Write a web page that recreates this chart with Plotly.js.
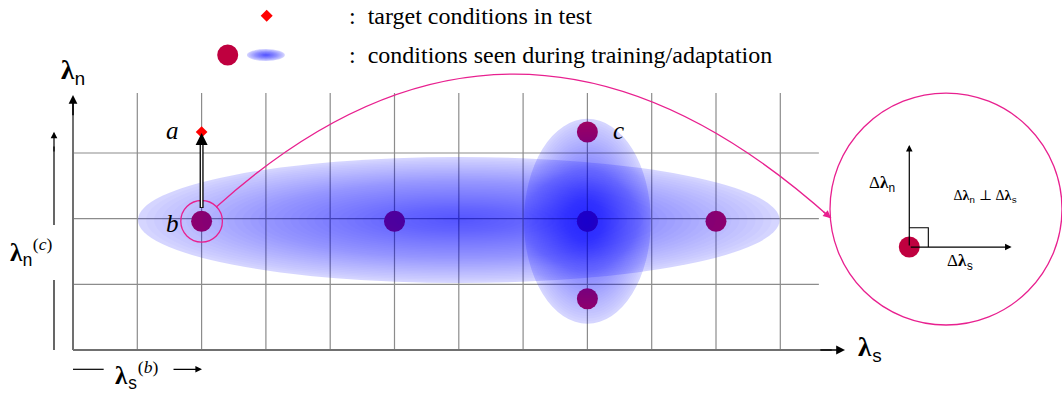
<!DOCTYPE html>
<html><head><meta charset="utf-8">
<script src="https://cdn.plot.ly/plotly-3.0.1.min.js"></script>
<style>
html,body{margin:0;padding:0;background:#fff}
#chart svg text{font-family:"Liberation Serif","DejaVu Serif",serif !important;}
</style>
</head><body>
<div id="chart" style="width:1062px;height:396px"></div>
<script>
// ---------------- data (grid units: λs horizontal, λn vertical) ----------------
const gridS = [1, 2, 3, 4, 5, 6, 7, 8, 9, 10, 11];
const gridN = [1, 2, 3];
const trainS = [2, 5, 8, 10, 8, 8];
const trainN = [1.96, 1.96, 1.96, 1.96, 3.32, 0.78];
const targetS = [2];
const targetN = [3.32];
const regionS = [6.0, 8.0];          // centres of the training/adaptation regions
const regionN = [1.98, 1.96];
const regionSpreadS = [4.99, 0.985];
const regionSpreadN = [0.96, 1.56];
const pointLabels = ['a', 'b', 'c'];

// ---------------- style ----------------
const SERIF = 'Liberation Serif';
const CRIMSON = '#bf003f';
const MAGENTA = '#e8208f';
const GRID = '#8c8c8c';
const AXIS = '#707070';
const TT = s => '<span style="font-family:Liberation Mono">' + s + '</span>';
const LAM = s => '<b>λ</b><sub>' + TT(s) + '</sub>';

const shapesBelow = [];
const shapesAbove = [];
const annotations = [];

// grid
const gridTop = 3.914, gridRight = 11.6;
gridS.forEach(s => shapesBelow.push({type:'line', layer:'below', xref:'x', yref:'y',
  x0:s, x1:s, y0:0, y1:gridTop, line:{color:GRID, width:1.2}}));
gridN.forEach(n => shapesBelow.push({type:'line', layer:'below', xref:'x', yref:'y',
  x0:0, x1:gridRight, y0:n, y1:n, line:{color:GRID, width:1.2}}));
// main axes
shapesBelow.push({type:'line', layer:'below', xref:'x', yref:'y', x0:0, x1:11.8, y0:0, y1:0, line:{color:AXIS, width:2}});
shapesBelow.push({type:'line', layer:'below', xref:'x', yref:'y', x0:0, x1:0, y0:0, y1:3.8, line:{color:AXIS, width:2}});

function arrow(x, y, ax, ay, color, width, size) {
  annotations.push({xref:'x', yref:'y', axref:'x', ayref:'y', x:x, y:y, ax:ax, ay:ay,
    text:'', showarrow:true, arrowhead:2, arrowsize:size || 1, arrowwidth:width || 1.3,
    arrowcolor:color || '#000', standoff:0, startstandoff:0});
}
arrow(12.006, 0, 11.6, 0, '#000', 1.6, 1.1);
arrow(0, 3.883, 0, 3.55, '#000', 1.6, 1.1);

// gradient ellipses (training/adaptation regions)
function gradientEllipse(list, cx, cy, rx, ry) {
  const N = 40;
  for (let k = 0; k < N; k++) {
    const f = 1 - k / N;
    const a = k === 0 ? 0.18 : 0.02;
    list.push({type:'circle', layer:'above', xref:'x', yref:'y',
      x0:cx - rx * f, x1:cx + rx * f, y0:cy - ry * f, y1:cy + ry * f,
      fillcolor:'rgba(20,20,255,' + a + ')', line:{width:0}});
  }
}
regionS.forEach((s, i) => gradientEllipse(shapesAbove, s, regionN[i], regionSpreadS[i], regionSpreadN[i]));

// small highlight circle around b, curve to the zoom view
shapesAbove.push({type:'circle', layer:'above', xref:'x', yref:'y',
  x0:trainS[0] - 0.3235, x1:trainS[0] + 0.3235, y0:trainN[0] - 0.3167, y1:trainN[0] + 0.3167,
  line:{color:MAGENTA, width:1.3}});
shapesAbove.push({type:'path', layer:'above', xref:'x', yref:'y',
  path:'M 2.224,2.173 Q 6.897,6.312 11.788,2.005', line:{color:MAGENTA, width:1.3}});
arrow(11.788, 2.005, 11.649, 2.127, MAGENTA, 1.3, 1.2);

// double arrow b -> a
shapesAbove.push({type:'line', layer:'above', xref:'x', yref:'y', x0:2, x1:2, y0:2.162, y1:3.2, line:{color:'#000', width:4}});
shapesAbove.push({type:'line', layer:'above', xref:'x', yref:'y', x0:2, x1:2, y0:2.175, y1:3.19, line:{color:'#fff', width:1.4}});
arrow(2, 3.305, 2, 3.17, '#000', 2, 1.2);

// zoom view
shapesAbove.push({type:'circle', layer:'above', xref:'x', yref:'y',
  x0:13.577 - 1.804, x1:13.577 + 1.804, y0:2.147 - 1.766, y1:2.147 + 1.766,
  line:{color:MAGENTA, width:1.3}});
shapesAbove.push({type:'path', layer:'above', xref:'x', yref:'y',
  path:'M 13.006,1.862 L 13.302,1.862 L 13.302,1.568', line:{color:'#000', width:1.1}});
arrow(13.006, 3.122, 13.006, 1.568, '#000', 1.2, 1.1);
arrow(14.598, 1.568, 13.006, 1.568, '#000', 1.2, 1.1);
shapesAbove.push({type:'circle', layer:'above', xref:'x', yref:'y',
  xsizemode:'pixel', ysizemode:'pixel', xanchor:13.006, yanchor:1.568,
  x0:-10.5, x1:10.5, y0:-10.5, y1:10.5, fillcolor:CRIMSON, line:{width:0}});

// left / bottom reference arrows
shapesAbove.push({type:'line', layer:'above', xref:'x', yref:'y', x0:-0.2955, x1:-0.2955, y0:0, y1:1.066, line:{color:'#000', width:1.2}});
shapesAbove.push({type:'line', layer:'above', xref:'x', yref:'y', x0:-0.2955, x1:-0.2955, y0:1.903, y1:3.1, line:{color:'#000', width:1.2}});
arrow(-0.2955, 3.324, -0.2955, 3.0, '#000', 1.2, 1.1);
shapesAbove.push({type:'line', layer:'above', xref:'x', yref:'y', x0:0, x1:0.477, y0:-0.294, y1:-0.294, line:{color:'#000', width:1.2}});
arrow(2.006, -0.294, 1.54, -0.294, '#000', 1.2, 1.1);

// legend keys
shapesAbove.push({type:'path', layer:'above', xref:'x', yref:'y',
  xsizemode:'pixel', ysizemode:'pixel', xanchor:3.012, yanchor:5.091,
  path:'M -6,0 L 0,6 L 6,0 L 0,-6 Z', fillcolor:'#ff0000', line:{width:0}});
shapesAbove.push({type:'circle', layer:'above', xref:'x', yref:'y',
  xsizemode:'pixel', ysizemode:'pixel', xanchor:2.406, yanchor:4.492,
  x0:-10.5, x1:10.5, y0:-10.5, y1:10.5, fillcolor:CRIMSON, line:{width:0}});
gradientEllipse(shapesAbove, 3.0, 4.492, 0.295, 0.091);

// text
function label(x, y, text, size, extra) {
  annotations.push(Object.assign({xref:'x', yref:'y', x:x, y:y, text:text, showarrow:false,
    font:{family:SERIF, size:size, color:'#000'}}, extra || {}));
}
label(4.257, 5.09, ':  target conditions in test', 24, {xanchor:'left'});
label(4.257, 4.49, ':  conditions seen during training/adaptation', 24, {xanchor:'left'});
label(0, 4.218, LAM('n'), 27);
label(12.41, 0, LAM('s'), 27);
label(-0.653, 1.492, '<b>λ</b><sub>' + TT('n') + '</sub><sup>(<i>c</i>)</sup>', 25);
label(0.995, -0.381, '<b>λ</b><sub>' + TT('s') + '</sub><sup>(<i>b</i>)</sup>', 25);
label(1.54, 3.335, '<i>' + pointLabels[0] + '</i>', 25);
label(1.54, 1.919, '<i>' + pointLabels[1] + '</i>', 25);
label(8.476, 3.335, '<i>' + pointLabels[2] + '</i>', 25);
label(12.577, 2.513, 'Δ' + LAM('n'), 17);
label(14.194, 2.334, 'Δ' + LAM('n') + ' ⊥ Δ' + LAM('s'), 14);
label(13.795, 1.325, 'Δ' + LAM('s'), 17);

// ---------------- traces ----------------
const traces = [
  {type:'scatter', mode:'markers', x:trainS, y:trainN, hoverinfo:'skip',
   marker:{symbol:'circle', size:21, color:CRIMSON, line:{width:0}}},
  {type:'scatter', mode:'markers', x:targetS, y:targetN, hoverinfo:'skip',
   marker:{symbol:'diamond', size:9, color:'#ff0000', line:{width:0}}}
];

const layout = {
  width:1062, height:396, margin:{l:0, r:0, t:0, b:0},
  paper_bgcolor:'#fff', plot_bgcolor:'#fff', showlegend:false,
  font:{family:SERIF},
  xaxis:{range:[-1.1353, 15.381], visible:false, fixedrange:true},
  yaxis:{range:[-0.7005, 5.3297], visible:false, fixedrange:true},
  shapes: shapesBelow.concat(shapesAbove),
  annotations: annotations
};
Plotly.newPlot('chart', traces, layout, {staticPlot:true, displayModeBar:false});
</script>
</body></html>
